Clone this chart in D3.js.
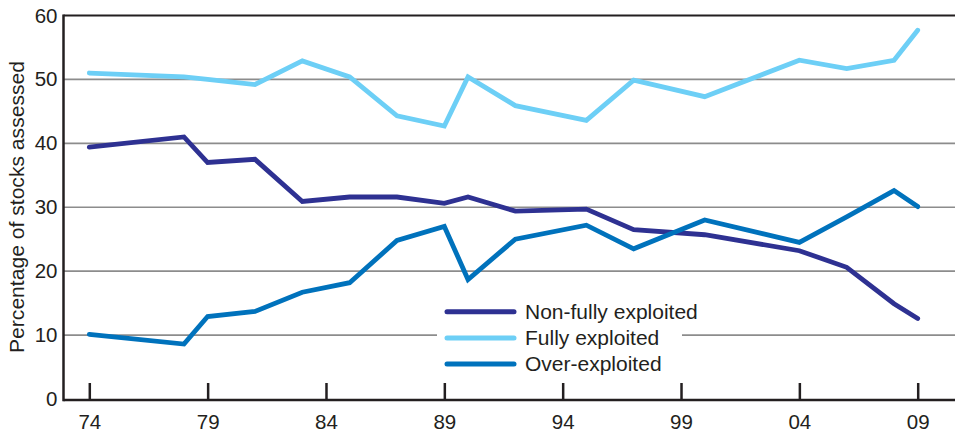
<!DOCTYPE html>
<html lang="en">
<head>
  <meta charset="UTF-8">
  <title>Status of assessed stocks</title>
  <style>
    * { margin: 0; padding: 0; box-sizing: border-box; }
    body { background: #fff; font-family: "Liberation Sans", Arial, sans-serif; }
    #chart { width: 955px; height: 433px; }
  </style>
</head>
<body>
  <div id="chart"></div>

  <script src="https://d3js.org/d3.v7.min.js"></script>
  <script>
    // data
    const years = [1974, 1978, 1979, 1981, 1983, 1985, 1987, 1989, 1990, 1992, 1995, 1997, 2000, 2004, 2006, 2008, 2009];
    const nonFully = [39.4, 41.0, 37.0, 37.5, 30.9, 31.6, 31.6, 30.6, 31.6, 29.4, 29.7, 26.5, 25.7, 23.2, 20.6, 14.9, 12.6];
    const fully    = [51.0, 50.4, 50.0, 49.2, 52.9, 50.4, 44.3, 42.7, 50.4, 45.9, 43.6, 49.9, 47.3, 53.0, 51.7, 53.0, 57.7];
    const over     = [10.1, 8.6, 12.9, 13.7, 16.7, 18.2, 24.8, 27.0, 18.7, 25.0, 27.2, 23.5, 28.0, 24.5, 28.5, 32.6, 30.1];

    const seriesNames = ["Non-fully exploited", "Fully exploited", "Over-exploited"];
    const seriesColors = ["#2e3192", "#6dcff6", "#0072bc"];
    const xTicks = [1974, 1979, 1984, 1989, 1994, 1999, 2004, 2009];
    const yTicks = [0, 10, 20, 30, 40, 50, 60];

    const width = 955;
    const height = 433;
    const textColor = "#231f20";

    const svg = d3.select("#chart")
      .append("svg")
      .attr("width", width)
      .attr("height", height);

    const x = d3.scaleLinear().domain([1974, 2009]).range([89.3, 917.7]);
    const y = d3.scaleLinear().domain([0, 60]).range([399, 15.5]);
    const left = 63.5;

    // gridlines
    svg.append("g")
      .selectAll("line")
      .data(yTicks.filter(d => d > 0 && d < 60))
      .join("line")
      .attr("x1", left)
      .attr("x2", width)
      .attr("y1", d => y(d))
      .attr("y2", d => y(d))
      .attr("stroke", "#8c8c8c")
      .attr("stroke-width", 1.6);

    // top frame line
    svg.append("line")
      .attr("x1", left).attr("x2", width)
      .attr("y1", y(60)).attr("y2", y(60))
      .attr("stroke", textColor).attr("stroke-width", 2.2);

    // y axis labels
    const yAxis = svg.append("g")
      .attr("transform", `translate(${left},0)`)
      .call(d3.axisLeft(y).tickValues(yTicks).tickSize(0).tickPadding(6));
    yAxis.select(".domain").remove();
    yAxis.selectAll("text")
      .attr("fill", textColor)
      .style("font-size", "20.5px")
      .style("font-family", "'Liberation Sans', Arial, sans-serif");

    // x axis
    const xAxis = svg.append("g")
      .attr("transform", `translate(0,400)`)
      .call(d3.axisBottom(x).tickValues(xTicks)
        .tickSizeInner(-17).tickSizeOuter(0).tickPadding(14)
        .tickFormat(d => String(d).slice(2)));
    xAxis.select(".domain").remove();
    xAxis.selectAll(".tick line").attr("stroke", textColor).attr("stroke-width", 2.5);
    xAxis.selectAll("text")
      .attr("fill", textColor)
      .style("font-size", "20.5px")
      .style("font-family", "'Liberation Sans', Arial, sans-serif");

    // axis lines
    svg.append("line")
      .attr("x1", left).attr("x2", width)
      .attr("y1", 400).attr("y2", 400)
      .attr("stroke", textColor).attr("stroke-width", 2.5);
    svg.append("line")
      .attr("x1", left).attr("x2", left)
      .attr("y1", y(60) - 1).attr("y2", 401.2)
      .attr("stroke", textColor).attr("stroke-width", 2.5);

    // y title
    svg.append("text")
      .attr("transform", "translate(24,207) rotate(-90)")
      .attr("text-anchor", "middle")
      .attr("fill", textColor)
      .style("font-size", "20px")
      .attr("textLength", 292)
      .attr("lengthAdjust", "spacingAndGlyphs")
      .text("Percentage of stocks assessed");

    // series lines
    const allSeries = [nonFully, fully, over];
    const line = d3.line()
      .x((d, i) => x(years[i]))
      .y(d => y(d));

    svg.append("g")
      .selectAll("path")
      .data(allSeries)
      .join("path")
      .attr("d", d => line(d))
      .attr("fill", "none")
      .attr("stroke", (d, i) => seriesColors[i])
      .attr("stroke-width", 4.8)
      .attr("stroke-linecap", "round")
      .attr("stroke-linejoin", "miter");

    // legend
    const legend = svg.append("g");
    legend.append("rect")
      .attr("x", 437).attr("y", 296)
      .attr("width", 245).attr("height", 82)
      .attr("fill", "#fff");

    const items = legend.selectAll("g")
      .data(seriesNames)
      .join("g")
      .attr("transform", (d, i) => `translate(0,${311.7 + i * 26.2})`);

    items.append("line")
      .attr("x1", 447).attr("x2", 514)
      .attr("stroke", (d, i) => seriesColors[i])
      .attr("stroke-width", 5)
      .attr("stroke-linecap", "round");

    items.append("text")
      .attr("x", 525)
      .attr("dy", "0.35em")
      .attr("fill", textColor)
      .style("font-size", "21px")
      .text(d => d);
  </script>
</body>
</html>
